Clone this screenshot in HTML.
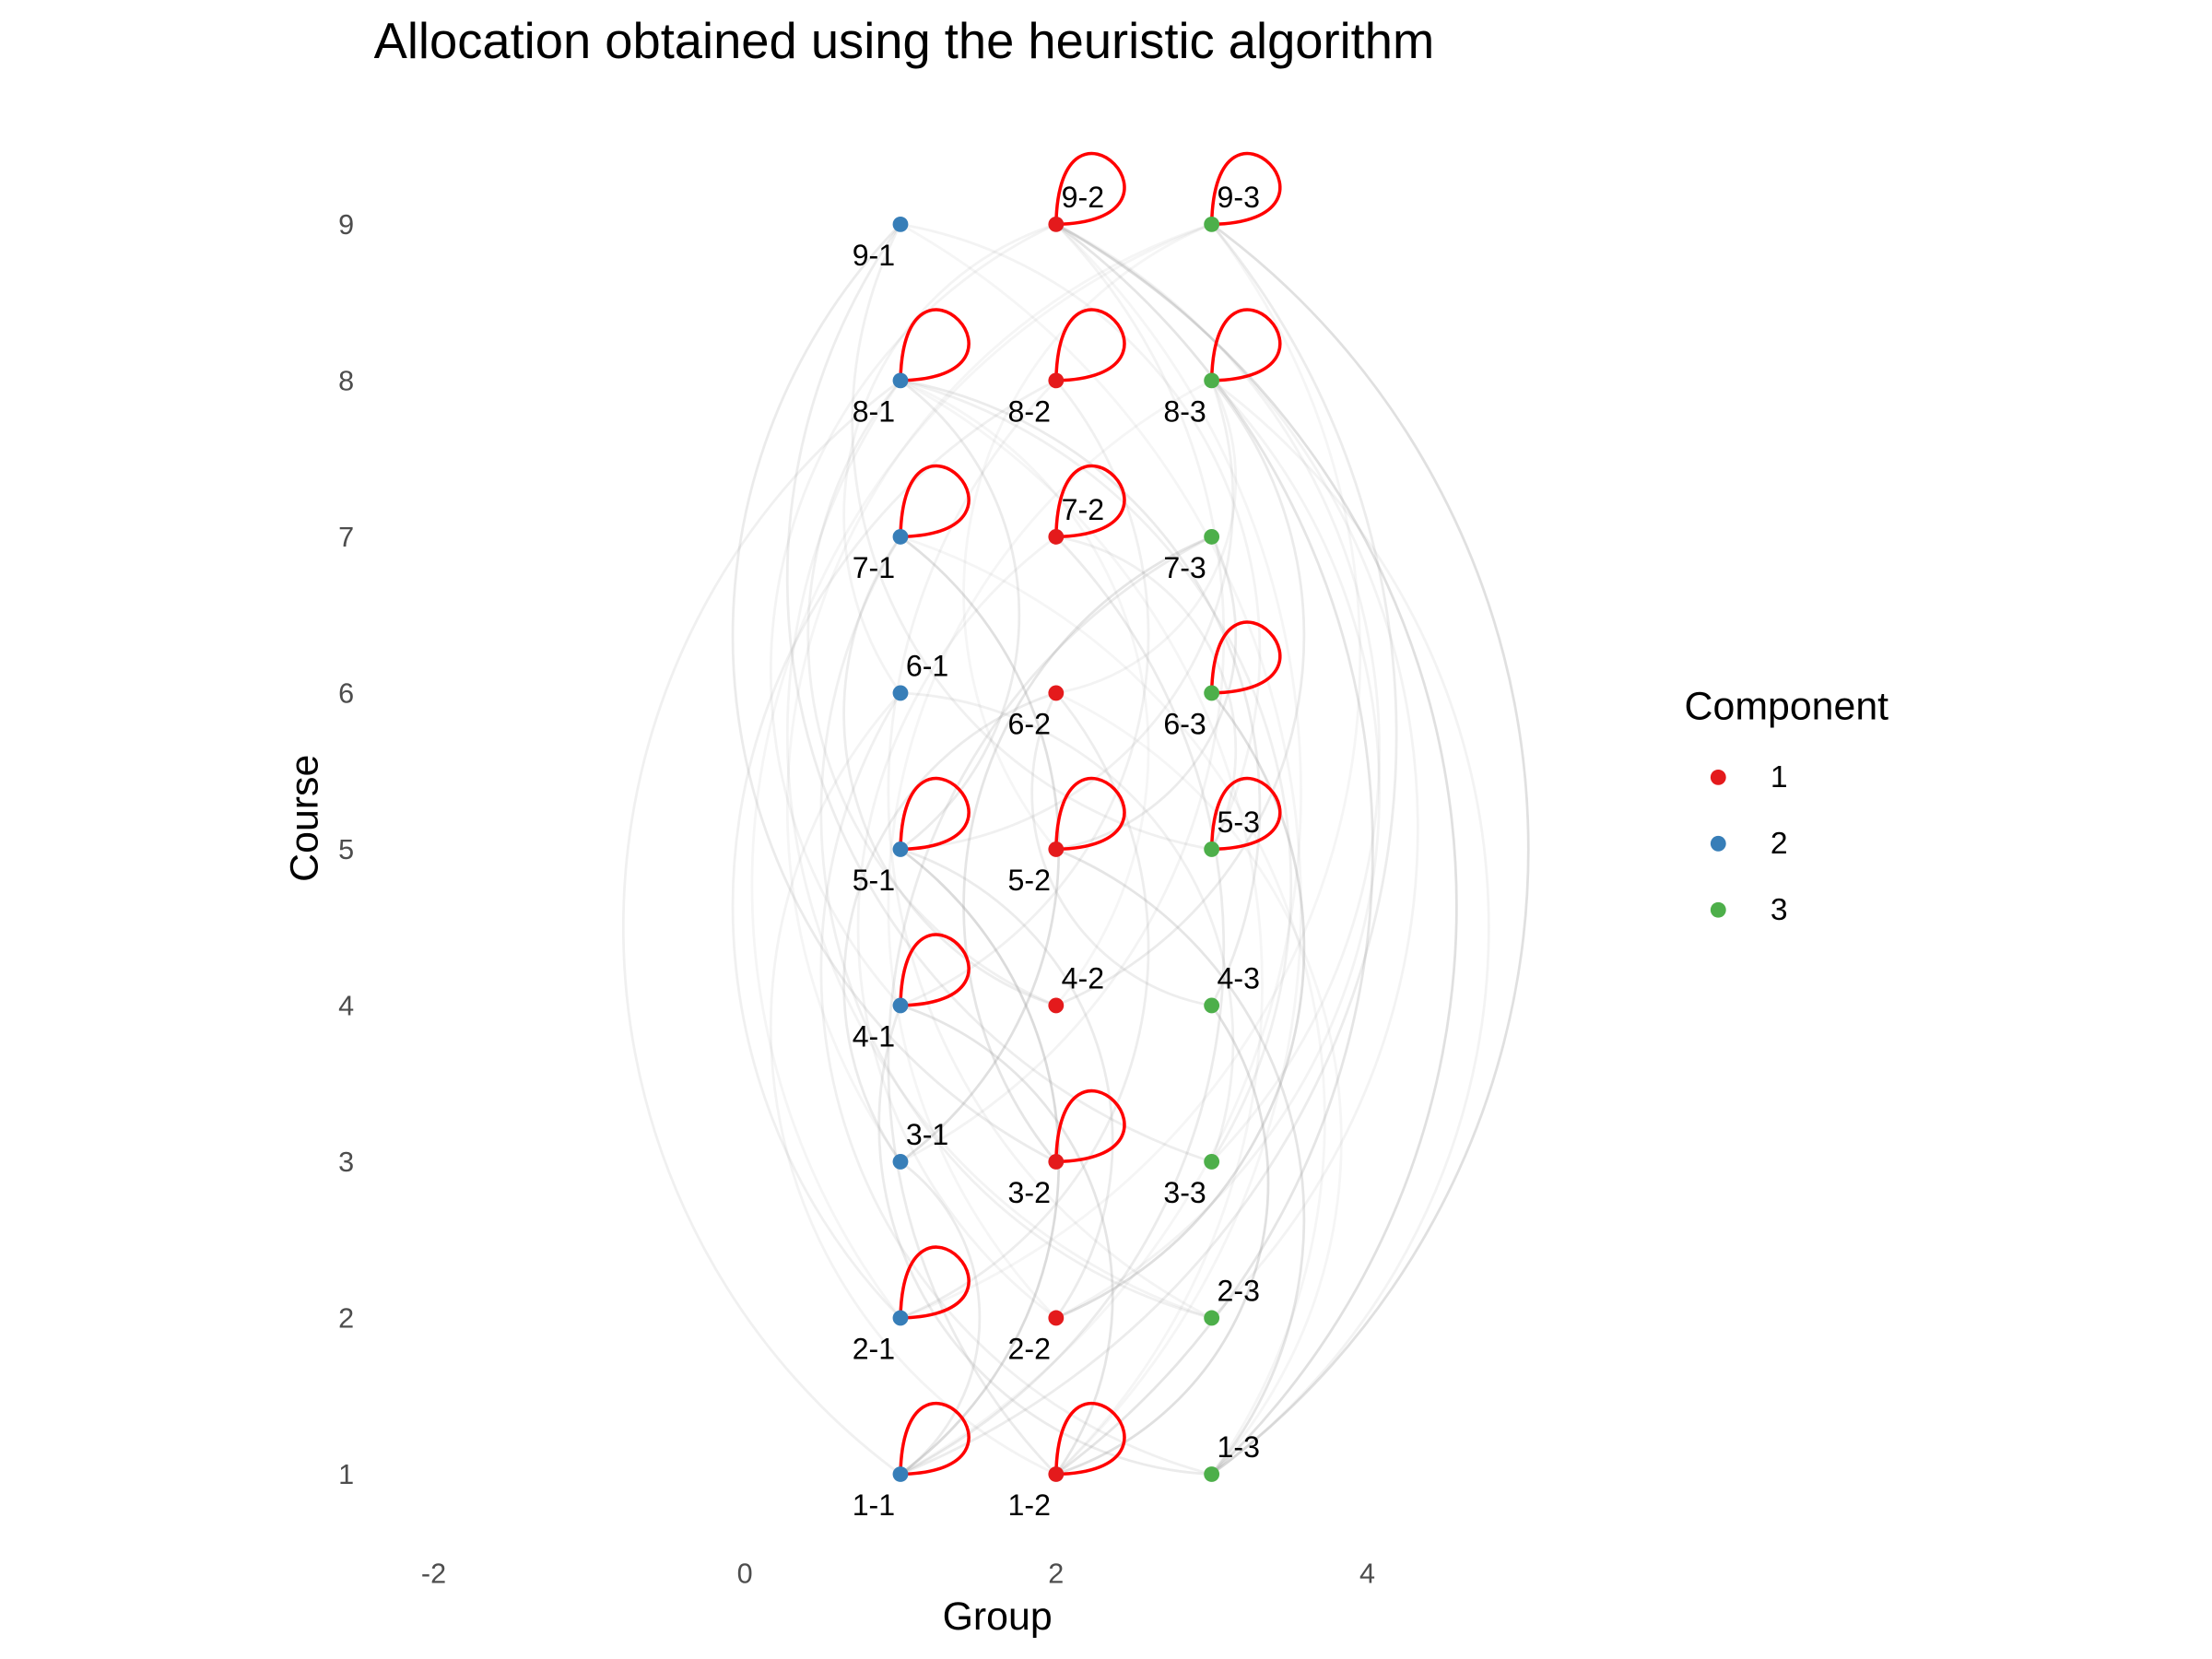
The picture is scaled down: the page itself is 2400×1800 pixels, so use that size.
<!DOCTYPE html>
<html><head><meta charset="utf-8"><style>
html,body{margin:0;padding:0;background:#fff}
svg{display:block}
text{font-family:"Liberation Sans",Arial,sans-serif}
</style></head><body>
<svg id="chart" width="2400" height="1800" viewBox="0 0 1568 1176" xmlns="http://www.w3.org/2000/svg">
<text x="265" y="41" font-size="35.5" fill="#000">Allocation obtained using the heuristic algorithm</text>
<g id="edges"></g>
<g id="loops"></g>
<g id="nodes"></g>
<g id="labels"></g>
<g id="axes"></g>
<text x="707" y="1155" font-size="28" text-anchor="middle" fill="#000">Group</text>
<text transform="translate(225,580) rotate(-90)" font-size="28" text-anchor="middle" fill="#000">Course</text>
<g>
<text x="1194" y="510" font-size="28" fill="#000">Component</text>
<circle cx="1218" cy="551" r="5.5" fill="#E41A1C"/>
<text x="1255" y="558" font-size="22" fill="#000">1</text>
<circle cx="1218" cy="598" r="5.5" fill="#377EB8"/>
<text x="1255" y="605" font-size="22" fill="#000">2</text>
<circle cx="1218" cy="645" r="5.5" fill="#4DAF4A"/>
<text x="1255" y="652" font-size="22" fill="#000">3</text>
</g>
</svg>
<script>
const xTicks = [-2, 0, 2, 4];
const yTicks = [1, 2, 3, 4, 5, 6, 7, 8, 9];
const nodeGroups = [1,2,3,1,2,3,1,2,3,1,2,3,1,2,3,1,2,3,1,2,3,1,2,3,1,2,3];
const nodeCourses = [1,1,1,2,2,2,3,3,3,4,4,4,5,5,5,6,6,6,7,7,7,8,8,8,9,9,9];
const nodeComponents = [2,1,3,2,1,3,2,1,3,2,1,3,2,1,3,2,1,3,2,1,3,2,1,3,2,1,3];
const loopNodes = ["9-2","9-3","8-1","8-2","8-3","7-1","7-2","6-3","5-1","5-2","5-3","4-1","3-2","2-1","1-1","1-2"];
const labelAbove = ["9-2","9-3","7-2","6-1","5-3","4-2","4-3","3-1","2-3","1-3"];
const edgeFrom = ["1-1","1-1","1-2","1-2","1-3","2-1","2-2","2-3","3-1","3-2","3-3","4-1","4-2","4-3","5-1","5-2","5-3","6-1","6-2","6-3","7-1","7-2","7-3","8-1","8-2","8-3","9-1","9-2","1-1","1-3","2-1","3-2","4-1","5-3","6-2","7-3","8-1","9-2","1-2","2-3","3-1","4-3","9-3","8-2","6-1","5-1","1-1","2-2","3-3","9-1","1-1","9-1","1-3","9-3","2-1","8-3","1-2","7-1","3-3","6-2","4-2","5-2","9-3","2-2"];
const edgeTo   = ["5-1","8-1","9-2","7-3","9-3","8-2","6-3","8-1","7-1","9-1","6-1","9-2","8-3","1-2","8-1","1-3","7-2","9-2","3-1","2-2","4-2","1-1","3-2","4-3","2-3","5-1","3-3","1-3","3-1","6-1","6-2","7-3","1-3","9-1","8-3","5-2","4-2","2-3","4-1","7-1","9-2","6-2","2-1","4-1","1-2","2-2","9-3","7-2","8-1","5-3","9-2","1-2","8-3","1-1","9-3","2-2","8-1","1-3","9-2","1-3","8-1","9-3","3-1","8-3"];
const edgeAlpha = [0.35,0.15,0.25,0.2,0.3,0.15,0.2,0.12,0.3,0.2,0.15,0.12,0.2,0.3,0.2,0.25,0.15,0.12,0.2,0.15,0.18,0.2,0.15,0.2,0.12,0.15,0.18,0.3,0.2,0.15,0.18,0.12,0.2,0.15,0.12,0.2,0.15,0.12,0.25,0.15,0.12,0.18,0.1,0.15,0.12,0.2,0.1,0.12,0.15,0.12,0.1,0.1,0.12,0.1,0.1,0.12,0.1,0.1,0.12,0.1,0.1,0.1,0.1,0.1];
const compColors = {1:"#E41A1C",2:"#377EB8",3:"#4DAF4A"};
const NS="http://www.w3.org/2000/svg";
const xs = v => 528 + (v-0)*110.3;
const ys = v => 1045 - (v-1)*110.75;
function mk(tag, attrs, parent){const e=document.createElementNS(NS,tag);for(const k in attrs)e.setAttribute(k,attrs[k]);parent.appendChild(e);return e;}
const axes=document.getElementById('axes');
xTicks.forEach(t=>{const e=mk('text',{x:xs(t),y:1122,'font-size':20,'text-anchor':'middle',fill:'#4d4d4d'},axes);


e.textContent=t;});
yTicks.forEach(t=>{const e=mk('text',{x:251,y:ys(t)+7,'font-size':20,'text-anchor':'end',fill:'#4d4d4d'},axes);


e.textContent=t;});
const pos={};
nodeGroups.forEach((g,i)=>{pos[nodeCourses[i]+'-'+g]=[xs(g),ys(nodeCourses[i])];});
const eg=document.getElementById('edges');
edgeFrom.forEach((f,i)=>{const a=pos[f],b=pos[edgeTo[i]];if(!a||!b)return;
const dx=b[0]-a[0],dy=b[1]-a[1];const d=Math.hypot(dx,dy);const r=d*0.62;
const p=mk('path',{d:`M${a[0]},${a[1]} A${r},${r} 0 0 ${i%2} ${b[0]},${b[1]}`,fill:'none',stroke:'#999','stroke-width':1.8,'stroke-opacity':edgeAlpha[i]},eg);

});
const lg=document.getElementById('loops');
loopNodes.forEach(n=>{const [x,y]=pos[n];
const p=mk('path',{d:`M${x},${y} C${x+2},${y-112} ${x+108},${y-2} ${x},${y}`,fill:'none',stroke:'#FF0000','stroke-width':2.3},lg);

});
const ng=document.getElementById('nodes'),lab=document.getElementById('labels');
nodeGroups.forEach((g,i)=>{const id=nodeCourses[i]+'-'+g;const [x,y]=pos[id];
const c=mk('circle',{cx:x,cy:y,r:5.5,fill:compColors[nodeComponents[i]]},ng);


const above=labelAbove.includes(id);
const t=mk('text',{x:above?x+19:x-19,y:above?y-12:y+29,'font-size':21,'text-anchor':'middle',fill:'#000'},lab);


t.textContent=id;});
</script>
</body></html>
